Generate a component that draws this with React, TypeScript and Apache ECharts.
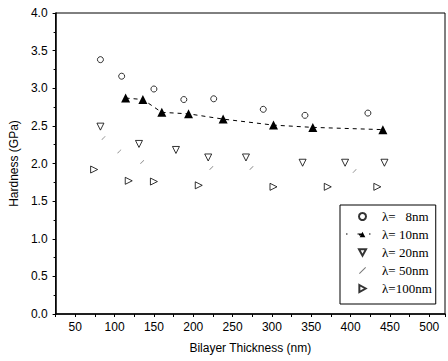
import React, { useEffect, useRef } from "react";
import * as echarts from "echarts";

const seriesNames = ["λ=\u00a0\u00a0\u00a08nm", "λ= 10nm", "λ= 20nm", "λ= 50nm", "λ=100nm"];

const lambda8: [number, number][] = [
  [82, 3.38], [109, 3.16], [150, 2.99], [188, 2.85], [226, 2.86], [289, 2.72], [342, 2.64], [422, 2.67],
];
const lambda10: [number, number][] = [
  [114, 2.87], [136, 2.85], [160, 2.68], [194, 2.66], [238, 2.59], [302, 2.51], [352, 2.48], [441, 2.45],
];
const lambda20: [number, number][] = [
  [82, 2.49], [131, 2.26], [178, 2.18], [219, 2.08], [267, 2.08], [339, 2.01], [393, 2.01], [443, 2.01],
];
const lambda50: [number, number][] = [
  [86, 2.34], [106, 2.16], [135, 2.02], [223, 1.94], [274, 1.94], [405, 1.9],
];
const lambda100: [number, number][] = [
  [74, 1.92], [118, 1.77], [150, 1.76], [207, 1.71], [302, 1.69], [371, 1.69], [434, 1.69],
];

const xTitle = "Bilayer Thickness (nm)";
const yTitle = "Hardness (GPa)";

const sans = "'Liberation Sans', Arial, sans-serif";
const serif = "'Liberation Serif', 'Times New Roman', serif";

const downTri = "path://M0,0 L10,0 L5,9 Z";
const rightTri = "path://M0,0 L9,5 L0,10 Z";
const slash = "path://M0,9 L1,10 L10,1 L9,0 Z";

export default function App() {
  const ref = useRef<HTMLDivElement>(null);
  useEffect(() => {
    if (!ref.current) return;
    const chart = echarts.init(ref.current, undefined, { renderer: "svg" });
    const hollow = { color: "#fff", borderColor: "#000", borderWidth: 1 };
    chart.setOption({
      animation: false,
      backgroundColor: "#fff",
      grid: {
        left: 55,
        top: 13,
        right: 0,
        bottom: 47,
        show: true,
        borderColor: "#000",
        borderWidth: 1,
      },
      xAxis: {
        type: "value",
        min: 25,
        max: 520,
        interval: 25,
        name: xTitle,
        nameLocation: "middle",
        nameGap: 28,
        nameTextStyle: { fontFamily: sans, fontSize: 12, color: "#000" },
        axisLine: { show: true, lineStyle: { color: "#000", width: 1.5 } },
        axisTick: { show: true, inside: false, length: 3, lineStyle: { color: "#000" } },
        splitLine: { show: false },
        axisLabel: {
          color: "#000",
          fontFamily: sans,
          fontSize: 12,
          margin: 7,
          formatter: (v: number) => (v % 50 === 0 && v <= 500 ? String(v) : ""),
        },
      },
      yAxis: {
        type: "value",
        min: 0,
        max: 4,
        interval: 0.5,
        name: yTitle,
        nameLocation: "middle",
        nameGap: 34,
        nameTextStyle: { fontFamily: sans, fontSize: 12, color: "#000" },
        axisLine: { show: true, lineStyle: { color: "#000", width: 1.5 } },
        axisTick: { show: true, inside: false, length: 3, lineStyle: { color: "#000" } },
        minorTick: { show: true, splitNumber: 2, length: 2, lineStyle: { color: "#000" } },
        splitLine: { show: false },
        axisLabel: {
          color: "#000",
          fontFamily: sans,
          fontSize: 12,
          margin: 8,
          formatter: (v: number) => v.toFixed(1),
        },
      },
      legend: {
        orient: "vertical",
        left: 340,
        top: 205,
        padding: [5, 4, 9, 18],
        itemWidth: 7,
        itemHeight: 7,
        itemGap: 5,
        borderColor: "#000",
        borderWidth: 1,
        backgroundColor: "#fff",
        textStyle: { fontFamily: serif, fontSize: 13, color: "#000", lineHeight: 12, padding: [0, 0, 0, 11] },
        data: [
          { name: seriesNames[0] },
          { name: seriesNames[1] },
          { name: seriesNames[2], icon: downTri },
          { name: seriesNames[3], icon: slash },
          { name: seriesNames[4], icon: rightTri },
        ],
      },
      graphic: [
        {
          type: "line",
          z: 100,
          shape: { x1: 346, y1: 234, x2: 377, y2: 234 },
          style: { stroke: "#000", lineWidth: 1, lineDash: [1.5, 10] },
        },
      ],
      series: [
        {
          name: seriesNames[0],
          type: "scatter",
          data: lambda8,
          symbol: "circle",
          symbolSize: 6,
          itemStyle: hollow,
        },
        {
          name: seriesNames[1],
          type: "line",
          data: lambda10,
          symbol: "triangle",
          symbolSize: 9,
          showSymbol: true,
          itemStyle: { color: "#000" },
          lineStyle: { color: "#000", width: 1, type: [4, 4] },
        },
        {
          name: seriesNames[2],
          type: "scatter",
          data: lambda20,
          symbol: downTri,
          symbolSize: 7,
          itemStyle: hollow,
        },
        {
          name: seriesNames[3],
          type: "scatter",
          data: lambda50,
          symbol: slash,
          symbolSize: 4,
          itemStyle: { color: "#555" },
        },
        {
          name: seriesNames[4],
          type: "scatter",
          data: lambda100,
          symbol: rightTri,
          symbolSize: 7,
          itemStyle: hollow,
        },
      ],
    });
    return () => chart.dispose();
  }, []);
  return <div ref={ref} style={{ width: 448, height: 361, position: "absolute", left: 0, top: 0 }} />;
}
